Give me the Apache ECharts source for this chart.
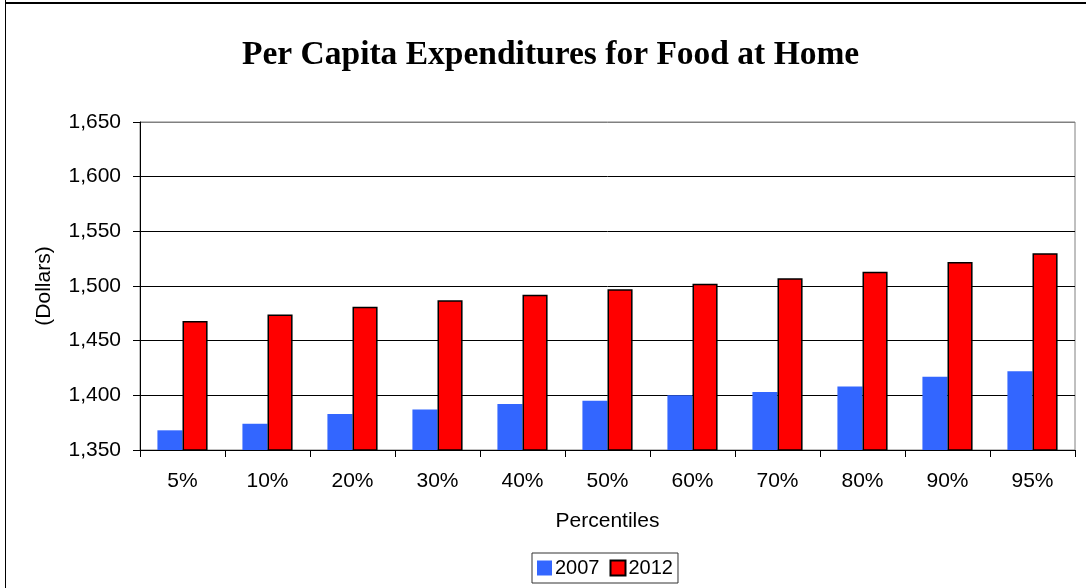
<!DOCTYPE html>
<html>
<head>
<meta charset="utf-8">
<script src="https://cdn.jsdelivr.net/npm/echarts@6/dist/echarts.min.js"></script>
<style>
  html, body { margin: 0; padding: 0; background: #fff; }
  #chart { width: 1086px; height: 588px; }
</style>
</head>
<body>
<div id="chart"></div>
<script>
const categories = ['5%', '10%', '20%', '30%', '40%', '50%', '60%', '70%', '80%', '90%', '95%'];
const values2007 = [1368, 1374, 1383, 1387, 1392, 1395, 1400, 1403, 1408, 1417, 1422];
const values2012 = [1468, 1474, 1481, 1487, 1492, 1497, 1502, 1507, 1513, 1522, 1530];
const yTicks = { min: 1350, max: 1650, interval: 50 };

const chart = echarts.init(document.getElementById('chart'), null, { renderer: 'canvas' });
chart.setOption({
  backgroundColor: '#ffffff',
  animation: false,
  title: {
    text: 'Per Capita Expenditures for Food at Home',
    left: 242,
    top: 38,
    padding: 0,
    textStyle: { fontFamily: 'Liberation Serif', fontWeight: 'bold', fontSize: 33.5, color: '#000' }
  },
  graphic: [
    { type: 'line', shape: { x1: 5.5, y1: 0, x2: 5.5, y2: 588 }, style: { stroke: '#000', lineWidth: 1 } },
    { type: 'line', shape: { x1: 5, y1: 3, x2: 1086, y2: 3 }, style: { stroke: '#000', lineWidth: 2 } }
  ],
  legend: {
    data: ['2007', '2012'],
    left: 532,
    top: 553,
    itemWidth: 15,
    itemHeight: 15,
    itemGap: 10,
    padding: [5, 5, 5, 5],
    borderColor: '#333',
    borderWidth: 1,
    icon: 'rect',
    textStyle: { fontFamily: 'Liberation Sans', fontSize: 20, color: '#000', padding: [0, 0, 0, -2] }
  },
  grid: {
    left: 140, right: 11, top: 122, bottom: 138,
    show: true, borderColor: '#808080', borderWidth: 1, backgroundColor: 'transparent'
  },
  xAxis: {
    type: 'category',
    data: categories,
    name: 'Percentiles',
    nameLocation: 'middle',
    nameGap: 61,
    nameTextStyle: { fontFamily: 'Liberation Sans', fontSize: 21, color: '#000' },
    axisLine: { lineStyle: { color: '#000', width: 1 } },
    axisTick: { show: true, length: 7, lineStyle: { color: '#000' } },
    axisLabel: { fontFamily: 'Liberation Sans', fontSize: 21, color: '#000', margin: 21 },
    splitLine: { show: false }
  },
  yAxis: {
    type: 'value',
    min: yTicks.min, max: yTicks.max, interval: yTicks.interval,
    name: '(Dollars)',
    nameLocation: 'middle',
    nameRotate: 90,
    nameGap: 85,
    nameTextStyle: { fontFamily: 'Liberation Sans', fontSize: 21, color: '#000' },
    axisLine: { show: true, lineStyle: { color: '#000', width: 1 } },
    axisTick: { show: true, length: 7, lineStyle: { color: '#000' } },
    axisLabel: {
      fontFamily: 'Liberation Sans', fontSize: 21, color: '#000', margin: 19,
      formatter: v => v.toLocaleString('en-US')
    },
    splitLine: {
      show: true,
      lineStyle: { color: ['#000', '#000', '#000', '#000', '#000', '#000', '#808080'], width: 1 }
    }
  },
  series: [
    {
      name: '2007', type: 'bar', data: values2007,
      barGap: '0%', barCategoryGap: '41%',
      itemStyle: { color: '#3366FF' }
    },
    {
      name: '2012', type: 'bar', data: values2012,
      itemStyle: { color: '#FF0000', borderColor: '#000', borderWidth: 1.5 }
    }
  ]
});
</script>
</body>
</html>
